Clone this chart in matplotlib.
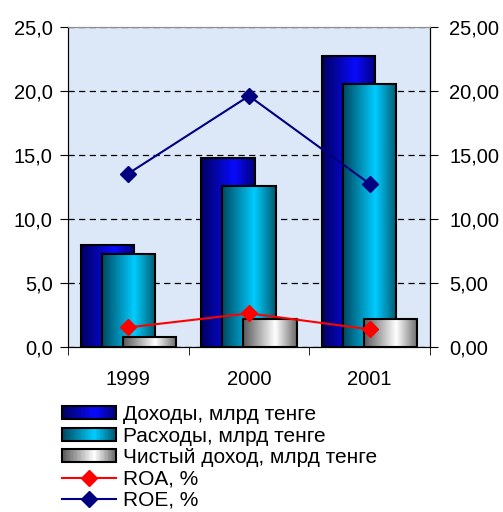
import numpy as np
import matplotlib
matplotlib.use("Agg")
import matplotlib.pyplot as plt
from matplotlib.colors import LinearSegmentedColormap
from matplotlib.patches import Rectangle
from matplotlib.lines import Line2D
from matplotlib.legend_handler import HandlerBase
from matplotlib.ticker import FuncFormatter, FixedLocator

plt.rcParams["font.family"] = ["Liberation Sans", "DejaVu Sans"]

# data
years = ["1999", "2000", "2001"]
dohody = [7.95, 14.75, 22.7]      # Доходы, млрд тенге
rashody = [7.3, 12.55, 20.5]      # Расходы, млрд тенге
chisty = [0.78, 2.18, 2.2]        # Чистый доход, млрд тенге
roa = [1.55, 2.65, 1.4]
roe = [13.55, 19.6, 12.75]

bar_labels = ["Доходы, млрд тенге", "Расходы, млрд тенге", "Чистый доход, млрд тенге"]
line_labels = ["ROA, %", "ROE, %"]

# horizontal gradients: dark edge -> bright -> dark edge
cmaps = [
    LinearSegmentedColormap.from_list("doh", [(0, "#000060"), (0.62, "#0a0aff"), (1, "#00007a")]),
    LinearSegmentedColormap.from_list("ras", [(0, "#004860"), (0.6, "#00ccff"), (1, "#005a70")]),
    LinearSegmentedColormap.from_list("chi", [(0, "#5a5a5a"), (0.6, "#ffffff"), (1, "#6a6a6a")]),
]


class GradHandler(HandlerBase):
    def __init__(self, cmap):
        super().__init__()
        self.cmap = cmap

    def create_artists(self, legend, orig_handle, xdescent, ydescent,
                       width, height, fontsize, trans):
        arts = []
        n = 40
        for k in range(n):
            r = Rectangle((-xdescent + width * k / n, -ydescent), width / n * 1.1, height,
                          facecolor=self.cmap(k / (n - 1)), edgecolor="none", transform=trans)
            arts.append(r)
        arts.append(Rectangle((-xdescent, -ydescent), width, height, facecolor="none",
                              edgecolor="black", lw=1.5, transform=trans))
        return arts


fig = plt.figure(figsize=(5.03, 5.12), dpi=100)
ax = fig.add_axes([68 / 503, 1 - 347.3 / 512, 362 / 503, 320.6 / 512])
ax.set_facecolor("#dce8f7")

x = np.arange(len(years))
width = 0.44
offsets = [-0.174, 0.0, 0.174]
grad = np.linspace(0, 1, 200).reshape(1, -1)
for i, vals in enumerate([dohody, rashody, chisty]):
    bars = ax.bar(x + offsets[i], vals, width, facecolor="none", edgecolor="black",
                  lw=1.5, zorder=3 + 2 * i)
    for b in bars:
        x0, y0, w, h = b.get_x(), b.get_y(), b.get_width(), b.get_height()
        im = ax.imshow(grad, extent=[x0, x0 + w, y0, y0 + h], aspect="auto",
                       cmap=cmaps[i], zorder=2 + 2 * i, interpolation="bilinear")
        im.set_clip_path(b)

ax.set_xlim(-0.5, 2.5)
ax.set_ylim(0, 25)
ax.set_yticks(np.arange(0, 26, 5))
ax.yaxis.set_major_formatter(FuncFormatter(lambda v, p: f"{v:.1f}".replace(".", ",")))
ax.set_xticks(x)
ax.set_xticklabels(years)
ax.xaxis.set_minor_locator(FixedLocator([-0.5, 0.5, 1.5, 2.5]))
ax.tick_params(axis="x", which="major", length=0, pad=16, labelsize=14.5)
ax.tick_params(axis="x", which="minor", length=6, direction="out")
ax.tick_params(axis="y", length=6, direction="out", pad=5, labelsize=14.5)
ax.set_axisbelow(True)
ax.yaxis.grid(True, color="black", linestyle=(0, (5, 3.5)), lw=0.9)
ax.spines["top"].set_color("#909090")

ax2 = ax.twinx()
ax2.set_ylim(0, 25)
ax2.set_yticks(np.arange(0, 26, 5))
ax2.yaxis.set_major_formatter(FuncFormatter(lambda v, p: f"{v:.2f}".replace(".", ",")))
ax2.tick_params(axis="y", length=6, direction="out", pad=8, labelsize=14.5)
ax2.spines["top"].set_color("#909090")
ax2.plot(x, roa, color="#ff0000", lw=1.5, marker="D", markersize=8, zorder=5)
ax2.plot(x, roe, color="#000080", lw=1.5, marker="D", markersize=8, zorder=5)

handles = [Rectangle((0, 0), 1, 1) for _ in range(3)]
handles += [
    Line2D([], [], color="#ff0000", lw=1.5, marker="D", markersize=8),
    Line2D([], [], color="#000080", lw=1.5, marker="D", markersize=8),
]
hmap = {handles[i]: GradHandler(cmaps[i]) for i in range(3)}
fig.legend(handles, bar_labels + line_labels, handler_map=hmap,
           loc="upper left", bbox_to_anchor=(62 / 503, 1 - 405 / 512),
           frameon=False, fontsize=15, handlelength=2.6, handleheight=0.6,
           handletextpad=0.35, labelspacing=0.12, borderpad=0, borderaxespad=0)

fig.savefig("out.png", dpi=100)
